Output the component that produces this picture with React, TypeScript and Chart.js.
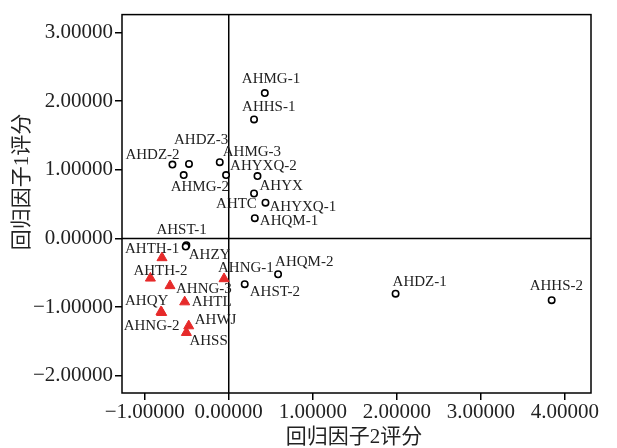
import React, { useEffect, useRef } from "react";
import { Chart, registerables } from "chart.js";

Chart.register(...registerables);

// ---- data ----
const circleNames = [
  "AHMG-1", "AHHS-1", "AHDZ-2", "AHDZ-3", "AHMG-3", "AHMG-2", "AHYXQ-2", "AHYX", "AHTC",
  "AHYXQ-1", "AHQM-1", "AHST-1", "AHZY", "AHQM-2", "AHST-2", "AHDZ-1", "AHHS-2",
];
const circleX = [0.429, 0.301, -0.670, -0.473, -0.107, -0.536, -0.032, 0.342, 0.301, 0.437, 0.310, -0.504, -0.512, 0.587, 0.190, 1.985, 3.842];
const circleY = [2.118, 1.734, 1.076, 1.086, 1.111, 0.924, 0.924, 0.909, 0.655, 0.521, 0.295, -0.098, -0.118, -0.521, -0.665, -0.803, -0.899];

const triangleNames = ["AHTH-1", "AHTH-2", "AHNG-3", "AHNG-1", "AHTL", "AHQY", "AHNG-2", "AHWJ", "AHSS"];
const triangleX = [-0.794, -0.932, -0.699, -0.056, -0.524, -0.806, -0.798, -0.476, -0.504];
const triangleY = [-0.281, -0.578, -0.688, -0.587, -0.924, -1.068, -1.079, -1.273, -1.370];

const xTickValues = [-1, 0, 1, 2, 3, 4];
const yTickValues = [-2, -1, 0, 1, 2, 3];

const xTitle = "回归因子2评分";
const yTitle = "回归因子1评分";

// label placement (pixel offsets of label's left/middle from its point)
const circleLabelOffsets: [number, number][] = [
  [-23, -14], [-12, -12], [-47, -10], [-15, -24], [3, -10], [-13, 12], [4, -9], [2, 10], [-38, 11],
  [4, 4], [5, 3], [-30, -15], [3, 8], [-3, -12], [5, 8], [-3, -12], [-22, -14],
];
const triangleLabelOffsets: [number, number][] = [
  [-37, -9], [-17, -7], [6, 3], [-6, -11], [7, 0], [-36, -11], [-38, 13], [6, -6], [3, 8],
];

const SERIF = '"Liberation Serif", "DejaVu Serif", "Noto Sans CJK SC", serif';
const fmt = (v: number) => v.toFixed(5).replace("-", "\u2212");

const decorPlugin = {
  id: "decor",
  beforeDatasetsDraw(chart: any) {
    const { ctx, chartArea: a, scales } = chart;
    ctx.save();
    ctx.strokeStyle = "#000";
    ctx.lineWidth = 1.5;
    const x0 = scales.x.getPixelForValue(0);
    const y0 = scales.y.getPixelForValue(0);
    ctx.beginPath();
    ctx.moveTo(x0, a.top);
    ctx.lineTo(x0, a.bottom);
    ctx.moveTo(a.left, y0);
    ctx.lineTo(a.right, y0);
    ctx.stroke();
    ctx.strokeRect(a.left, a.top, a.right - a.left, a.bottom - a.top);
    ctx.restore();
  },
  afterDatasetsDraw(chart: any) {
    const { ctx } = chart;
    ctx.save();
    ctx.fillStyle = "#222";
    ctx.font = `15px ${SERIF}`;
    ctx.textAlign = "left";
    ctx.textBaseline = "middle";
    const groups = [
      { names: circleNames, offs: circleLabelOffsets, idx: 0 },
      { names: triangleNames, offs: triangleLabelOffsets, idx: 1 },
    ];
    groups.forEach((g) => {
      const meta = chart.getDatasetMeta(g.idx);
      meta.data.forEach((el: any, i: number) => {
        const [dx, dy] = g.offs[i];
        ctx.fillText(g.names[i], el.x + dx, el.y + dy);
      });
    });
    // axis titles
    ctx.fillStyle = "#222";
    ctx.font = `21px ${SERIF}`;
    ctx.textAlign = "center";
    ctx.fillText(xTitle, 354, 437);
    ctx.translate(22, 182);
    ctx.rotate(-Math.PI / 2);
    ctx.fillText(yTitle, 0, 0);
    ctx.restore();
  },
};

export default function App() {
  const ref = useRef<HTMLCanvasElement | null>(null);
  useEffect(() => {
    document.body.style.margin = "0";
    if (!ref.current) return;
    const chart = new Chart(ref.current, {
      type: "scatter",
      data: {
        datasets: [
          {
            data: circleX.map((x, i) => ({ x, y: circleY[i] })),
            pointStyle: "circle",
            pointRadius: 3.2,
            pointBorderWidth: 1.6,
            pointBorderColor: "#000",
            pointBackgroundColor: "#fff",
          },
          {
            data: triangleX.map((x, i) => ({ x, y: triangleY[i] })),
            pointStyle: "triangle",
            pointRadius: 5.8,
            pointBorderWidth: 1,
            pointBorderColor: "#e62a2a",
            pointBackgroundColor: "#e62a2a",
          },
        ],
      },
      options: {
        animation: false,
        responsive: false,
        layout: { padding: { left: 0, right: 26, top: 10, bottom: 0 } },
        plugins: { legend: { display: false }, tooltip: { enabled: false } },
        scales: {
          x: {
            type: "linear",
            min: -1.27,
            max: 4.31,
            afterBuildTicks: (s: any) => {
              s.ticks = xTickValues.map((v) => ({ value: v }));
            },
            afterFit: (s: any) => {
              s.height = 55;
            },
            grid: { drawOnChartArea: false, drawTicks: true, tickLength: 7, color: "#000", lineWidth: 1.5 },
            border: { display: false },
            ticks: {
              padding: 0,
              color: "#222",
              maxRotation: 0,
              autoSkip: false,
              font: { family: SERIF, size: 21 },
              callback: (v: any) => fmt(Number(v)),
            },
          },
          y: {
            type: "linear",
            min: -2.25,
            max: 3.26,
            afterBuildTicks: (s: any) => {
              s.ticks = yTickValues.map((v) => ({ value: v }));
            },
            afterFit: (s: any) => {
              s.width = 122;
            },
            grid: { drawOnChartArea: false, drawTicks: true, tickLength: 7, color: "#000", lineWidth: 1.5 },
            border: { display: false },
            ticks: {
              padding: 2,
              color: "#222",
              autoSkip: false,
              font: { family: SERIF, size: 21 },
              callback: (v: any) => fmt(Number(v)),
            },
          },
        },
      },
      plugins: [decorPlugin],
    });
    return () => chart.destroy();
  }, []);
  return (
    <div style={{ width: 617, height: 448 }}>
      <canvas ref={ref} width={617} height={448} />
    </div>
  );
}
